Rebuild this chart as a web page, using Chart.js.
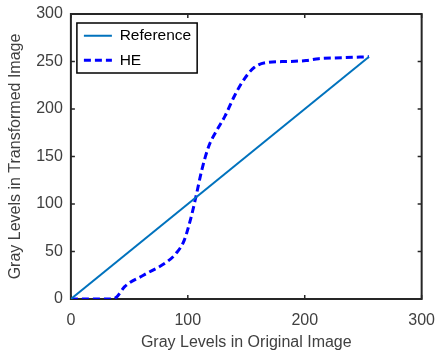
<!DOCTYPE html>
<html>
<head>
<meta charset="utf-8">
<script src="https://cdn.jsdelivr.net/npm/chart.js@4/dist/chart.umd.min.js"></script>
<style>
  html, body { margin: 0; padding: 0; background: #fff; }
  #wrap { width: 447px; height: 358px; }
</style>
</head>
<body>
<div id="wrap"><canvas id="chart"></canvas></div>
<script>
// gray level mapping
var refX = [0, 255];
var refY = [0, 255];
var heX = [0, 35, 39, 46, 62, 82, 90, 97, 103, 107, 112, 118, 125, 132, 140, 148, 157, 168, 185, 201, 212, 232, 255];
var heY = [0, 0, 2, 13, 25, 39, 48, 62, 87, 108, 136, 161, 178, 193, 214, 231, 244, 249, 250, 251, 253, 254, 255];
var xTicks = [0, 100, 200, 300];
var yTicks = [0, 50, 100, 150, 200, 250, 300];

function toPoints(xs, ys) {
    return xs.map(function (x, i) { return {x: x, y: ys[i]}; });
}

Chart.defaults.font.family = '"Liberation Sans", Arial, sans-serif';
Chart.defaults.font.size = 16;
Chart.defaults.color = '#404040';

var LEGEND_PAD = 9, SAMPLE_W = 28, ROW_H = 16, LEGEND_FONT = 15.5;

var framePlugin = {
    id: 'frame',
    // the 'chartArea' legend gets its top reset to 0, so put it back inside the plot
    afterLayout: function (chart) {
        var lg = chart.legend, a = chart.chartArea;
        if (!lg) return;
        lg.left = a.left + 4;
        lg.top = a.top + 5;
        lg.right = a.right;
        lg.bottom = a.bottom;
    },
    // box around the plot with inward ticks on every side (under the lines)
    beforeDatasetsDraw: function (chart) {
        var ctx = chart.ctx, a = chart.chartArea;
        var xs = chart.scales.x, ys = chart.scales.y;
        ctx.save();
        ctx.strokeStyle = '#262626';
        ctx.lineWidth = 1.5;
        ctx.beginPath();
        xTicks.forEach(function (v) {
            var px = xs.getPixelForValue(v);
            ctx.moveTo(px, a.bottom); ctx.lineTo(px, a.bottom - 4);
            ctx.moveTo(px, a.top); ctx.lineTo(px, a.top + 4);
        });
        yTicks.forEach(function (v) {
            var py = ys.getPixelForValue(v);
            ctx.moveTo(a.left, py); ctx.lineTo(a.left + 4, py);
            ctx.moveTo(a.right, py); ctx.lineTo(a.right - 4, py);
        });
        ctx.stroke();
        ctx.lineWidth = 2;
        ctx.strokeRect(a.left, a.top, a.right - a.left, a.bottom - a.top);
        ctx.restore();
    },
    // frame around the legend entries
    afterDraw: function (chart) {
        var lg = chart.legend;
        if (!lg || !lg.legendItems) return;
        var ctx = chart.ctx;
        ctx.save();
        ctx.font = LEGEND_FONT + 'px "Liberation Sans", Arial, sans-serif';
        var textW = 0;
        lg.legendItems.forEach(function (it) {
            textW = Math.max(textW, ctx.measureText(it.text).width);
        });
        var x0 = lg.left + LEGEND_PAD;
        var c1 = lg.top + LEGEND_PAD + ROW_H / 2;
        var c2 = c1 + (ROW_H + LEGEND_PAD) * (lg.legendItems.length - 1);
        var l = x0 - 7, r = x0 + SAMPLE_W + LEGEND_FONT / 2 + textW + 6;
        ctx.strokeStyle = '#000';
        ctx.lineWidth = 1.5;
        ctx.strokeRect(l, c1 - 13, r - l, c2 - c1 + 25);
        ctx.restore();
    }
};

new Chart(document.getElementById('chart'), {
    type: 'line',
    data: {
        datasets: [{
            label: 'Reference',
            data: toPoints(refX, refY),
            borderColor: '#0072BD',
            backgroundColor: '#0072BD',
            borderWidth: 2,
            pointRadius: 0
        }, {
            label: 'HE',
            data: toPoints(heX, heY),
            borderColor: '#0000FF',
            backgroundColor: '#0000FF',
            borderWidth: 3,
            borderDash: [7, 4],
            pointRadius: 0,
            cubicInterpolationMode: 'monotone'
        }]
    },
    plugins: [framePlugin],
    options: {
        responsive: true,
        maintainAspectRatio: false,
        animation: false,
        layout: { padding: { left: 6, right: 0, top: 1, bottom: 6 } },
        plugins: {
            tooltip: { enabled: false },
            legend: {
                position: 'chartArea',
                align: 'start',
                padding: 0,
                labels: {
                    usePointStyle: true,
                    pointStyle: 'line',
                    pointStyleWidth: SAMPLE_W,
                    boxHeight: ROW_H,
                    padding: LEGEND_PAD,
                    color: '#000',
                    font: { size: LEGEND_FONT },
                    generateLabels: function (chart) {
                        // keep each dataset's own dash and width in the sample line
                        var items = Chart.defaults.plugins.legend.labels.generateLabels(chart);
                        items.forEach(function (it) {
                            var ds = chart.data.datasets[it.datasetIndex];
                            it.lineDash = ds.borderDash || [];
                            it.lineWidth = ds.borderWidth;
                            it.strokeStyle = ds.borderColor;
                        });
                        return items;
                    }
                }
            }
        },
        scales: {
            x: {
                type: 'linear',
                min: 0, max: 300,
                grid: { display: false, drawTicks: false },
                border: { display: false },
                ticks: { stepSize: 100, padding: 12 },
                title: {
                    display: true,
                    text: 'Gray Levels in Original Image',
                    padding: { top: 0, bottom: 0 }
                },
                afterFit: function (scale) { scale.height = 53; }
            },
            y: {
                type: 'linear',
                min: 0, max: 300,
                grid: { display: false, drawTicks: false },
                border: { display: false },
                ticks: { stepSize: 50, padding: 8 },
                title: {
                    display: true,
                    text: 'Gray Levels in Transformed Image',
                    padding: { top: 0, bottom: 3 }
                },
                afterFit: function (scale) { scale.paddingTop = 14; }
            }
        }
    }
});
</script>
</body>
</html>
